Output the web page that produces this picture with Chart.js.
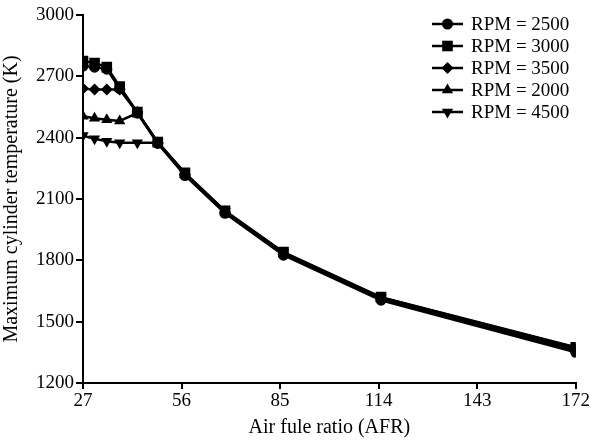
<!DOCTYPE html>
<html>
<head>
<meta charset="utf-8">
<script src="https://cdn.jsdelivr.net/npm/chart.js@4.4.0/dist/chart.umd.min.js"></script>
<style>
  html, body { margin: 0; padding: 0; background: #fff; }
  #wrap { width: 591px; height: 440px; }
</style>
</head>
<body>
<div id="wrap"><canvas id="afrChart"></canvas></div>
<script>
// air fuel ratio values (x)
const afr = [27, 30.4, 34, 37.8, 43, 49, 57, 68.8, 86, 114.7, 172];
const xTicks = [27, 56, 85, 114, 143, 172];

// maximum cylinder temperature (K) for each engine speed
const rpm2500 = [2750, 2745, 2735, 2640, 2520, 2372, 2215, 2030, 1825, 1605, 1350];
const rpm3000 = [2775, 2765, 2745, 2650, 2525, 2378, 2228, 2042, 1840, 1620, 1375];
const rpm3500 = [2640, 2635, 2635, 2635, 2525, 2375, 2220, 2035, 1830, 1610, 1355];
const rpm2000 = [2505, 2495, 2488, 2482, 2520, 2375, 2220, 2038, 1835, 1615, 1365];
const rpm4500 = [2410, 2395, 2382, 2375, 2375, 2375, 2225, 2040, 1838, 1618, 1372];

const serif = "'Liberation Serif', 'DejaVu Serif', serif";

function makeSeries(label, values, style, rotation, radius) {
    return {
        label: label,
        data: afr.map((x, i) => ({ x: x, y: values[i] })),
        borderColor: '#000',
        backgroundColor: '#000',
        borderWidth: 2.5,
        pointStyle: style,
        rotation: rotation,
        pointRadius: radius,
        pointBorderWidth: 0,
        pointBackgroundColor: '#000',
        tension: 0
    };
}

const datasets = [
    makeSeries('RPM = 2500', rpm2500, 'circle', 0, 5.5),
    makeSeries('RPM = 3000', rpm3000, 'rect', 0, 7.5),
    makeSeries('RPM = 3500', rpm3500, 'rectRot', 0, 6),
    makeSeries('RPM = 2000', rpm2000, 'triangle', 0, 6.5),
    makeSeries('RPM = 4500', rpm4500, 'triangle', 180, 6.5)
];

// legend drawn inside the plot area, line + marker like the original
const insideLegend = {
    id: 'insideLegend',
    afterDraw(chart) {
        const ctx = chart.ctx;
        ctx.save();
        ctx.font = '19px ' + serif;
        ctx.textBaseline = 'middle';
        chart.data.datasets.forEach((ds, i) => {
            const y = 24 + i * 22;
            ctx.strokeStyle = '#000';
            ctx.fillStyle = '#000';
            ctx.lineWidth = 2.5;
            ctx.beginPath();
            ctx.moveTo(432, y);
            ctx.lineTo(463, y);
            ctx.stroke();
            Chart.helpers.drawPoint(ctx, {
                pointStyle: ds.pointStyle,
                rotation: ds.rotation,
                radius: ds.pointRadius,
                borderWidth: 0
            }, 447.5, y);
            ctx.fillText(ds.label, 471, y + 1);
        });
        ctx.restore();
    }
};

new Chart(document.getElementById('afrChart'), {
    type: 'line',
    data: { datasets: datasets },
    options: {
        responsive: true,
        maintainAspectRatio: false,
        animation: false,
        layout: { padding: { top: 15, right: 14, left: 0, bottom: 0 } },
        plugins: {
            legend: { display: false },
            tooltip: { enabled: false }
        },
        scales: {
            x: {
                type: 'linear',
                min: 27,
                max: 172,
                afterBuildTicks: (scale) => { scale.ticks = xTicks.map(v => ({ value: v })); },
                afterFit: (scale) => { scale.height = 57; },
                border: { color: '#000', width: 2 },
                grid: { drawOnChartArea: false, drawTicks: true, tickLength: 6, color: '#000', lineWidth: 2 },
                ticks: { color: '#000', font: { family: serif, size: 19 }, padding: 1, maxRotation: 0, callback: (v) => String(v) },
                title: { display: true, text: 'Air fule ratio (AFR)', color: '#000', font: { family: serif, size: 20 }, padding: { top: 1, bottom: 0 } }
            },
            y: {
                min: 1200,
                max: 3000,
                ticks: { stepSize: 300, color: '#000', font: { family: serif, size: 19 }, padding: 2, callback: (v) => String(v) },
                afterFit: (scale) => { scale.width = 83; },
                border: { color: '#000', width: 2 },
                grid: { drawOnChartArea: false, drawTicks: true, tickLength: 7, color: '#000', lineWidth: 2 },
                title: { display: true, text: 'Maximum cylinder temperature (K)', color: '#000', font: { family: serif, size: 20 }, padding: { top: 0, bottom: 4 } }
            }
        }
    },
    plugins: [insideLegend]
});
</script>
</body>
</html>
